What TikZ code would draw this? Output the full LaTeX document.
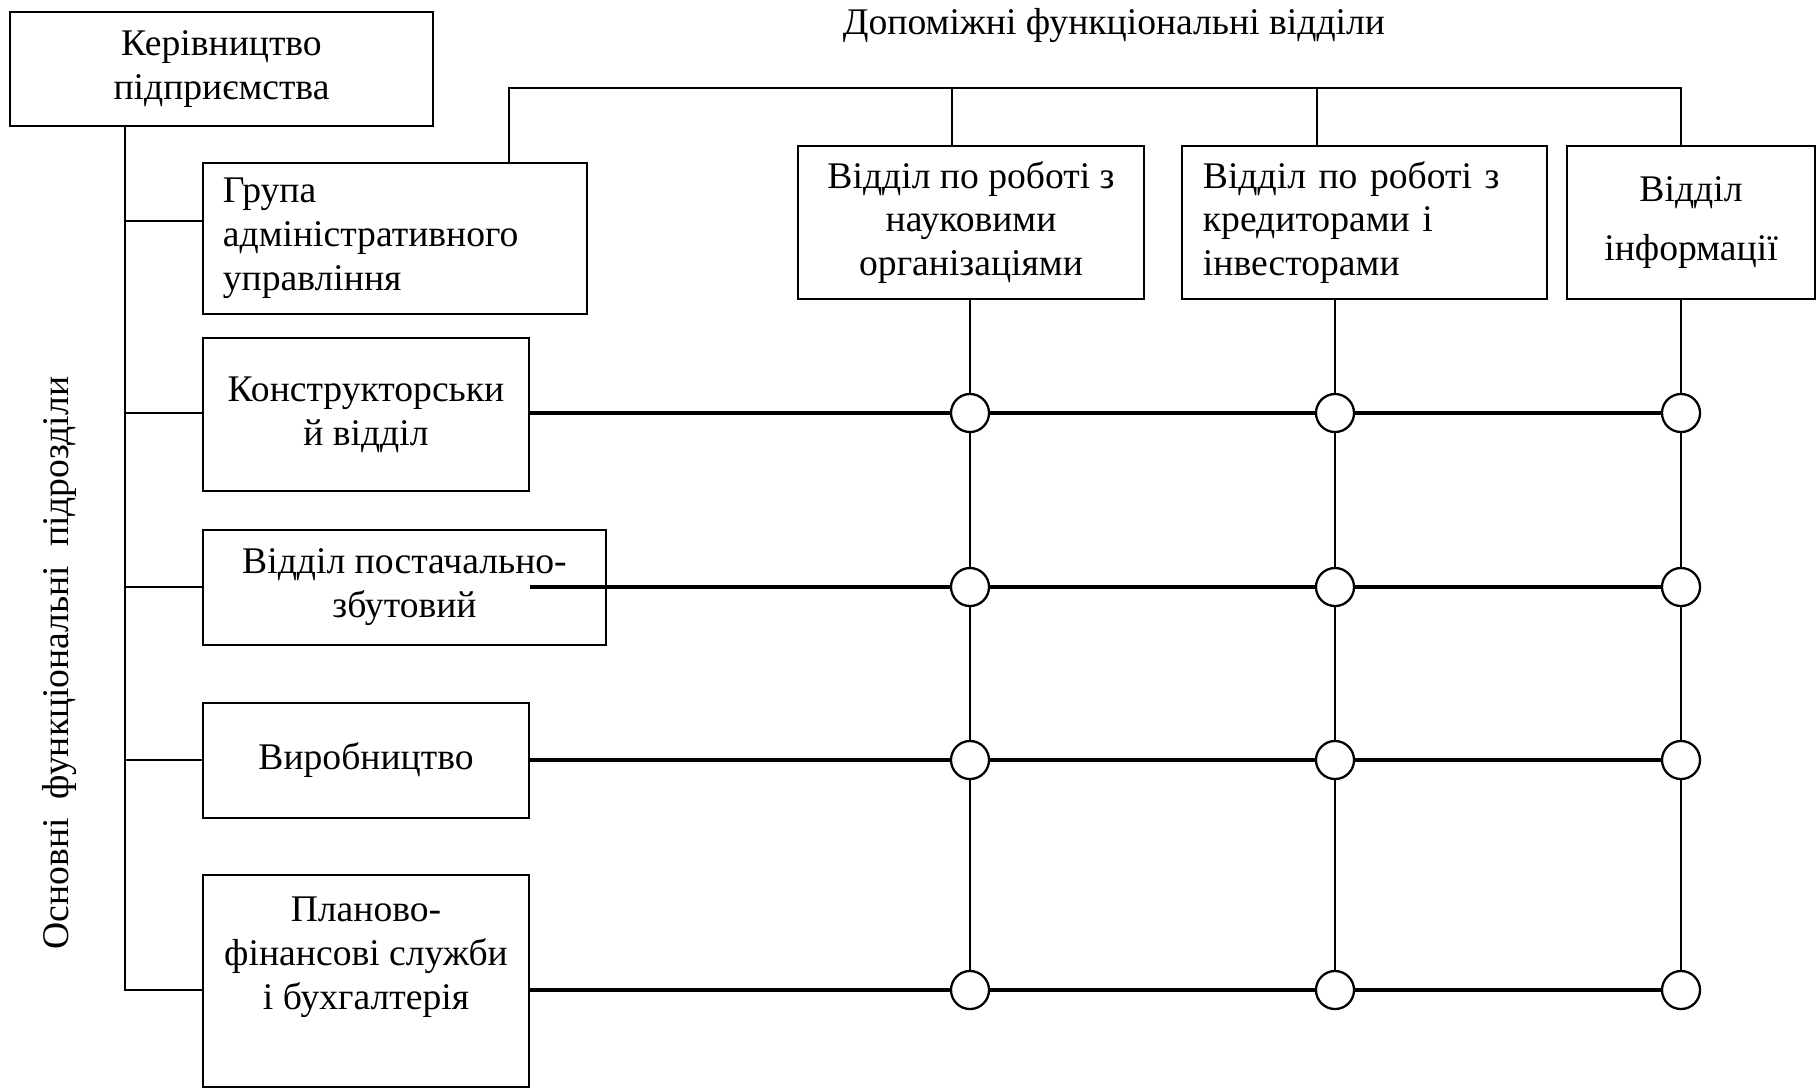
\documentclass[tikz,border=0pt]{standalone}
\usepackage{fontspec}
\setmainfont{Liberation Serif}
\usetikzlibrary{calc}

\begin{document}
\begin{tikzpicture}[x=0.01cm,y=-0.01cm,
    font=\fontsize{10.7}{12.5}\selectfont,
    box/.style={draw,line width=0.65pt,inner sep=0pt,align=center},
    link/.style={line width=0.65pt},
    row/.style={line width=0.9pt},
    knot/.style={draw,circle,fill=white,line width=0.65pt,minimum size=0.38cm,inner sep=0pt}]
	\useasboundingbox (0,0) rectangle (1816,1087);

	%% Headings
	\node (hdr) at (1114,25) {Допоміжні функціональні відділи};
	\node[rotate=90] (side) at (60,663) {Основні\ \ функціональні\ \ підрозділи};

	%% Management and the main departments (left column)
	\node[box,minimum width=4.23cm,minimum height=1.14cm] (head) at (221.5,69) {Керівництво\\підприємства};
	\node[box,minimum width=3.84cm,minimum height=1.51cm,text width=3.44cm,align=left] (grp) at (395,238.5) {Група\\адміністративного\\управління};
	\node[box,minimum width=3.26cm,minimum height=1.53cm] (konstr) at (366,414.5) {Конструкторськи\\й відділ};
	\node[box,minimum width=4.03cm,minimum height=1.15cm] (post) at (404.5,587.5) {Відділ постачально-\\збутовий};
	\node[box,minimum width=3.26cm,minimum height=1.15cm] (vyr) at (366,760.5) {Виробництво};
	\node[box,minimum width=3.26cm,minimum height=2.12cm] (plan) at (366,981) {Планово-\\фінансові служби\\і бухгалтерія\\[3.5pt]\mbox{}};

	%% Auxiliary departments (top row)
	\node[box,minimum width=3.46cm,minimum height=1.53cm] (nauk) at (971,222.5) {Відділ по роботі з\\науковими\\організаціями};
	\node[box,minimum width=3.65cm,minimum height=1.53cm,text width=3.23cm,align=left] (kred) at (1364.5,222.5) {Відділ по роботі з\\кредиторами і\\інвесторами};
	\node[box,minimum width=2.48cm,minimum height=1.53cm] (info) at (1691,222.5) {Відділ\\[4.5pt]інформації};

	%% Crossing points of the matrix
	\foreach \y [count=\r] in {413,587,760,990}
	  \foreach \x [count=\c] in {970,1335,1681}
	    \node[knot] (k\r\c) at (\x,\y) {};

	%% Trunk from management
	\coordinate (t0) at ($(head.south west)+(116,0)$);
	\draw[link] (t0) -- (t0 |- k41) -- (plan.west |- k41);
	\draw[link] (t0 |- k11) -- (konstr.west |- k11);
	\draw[link] (t0 |- k21) -- (post.west |- k21);
	\draw[link] (t0 |- k31) -- (vyr.west |- k31);
	\coordinate (g0) at ($(grp.west)+(0,-17.5)$);
	\draw[link] (t0 |- g0) -- (g0);

	%% Bus over the auxiliary departments
	\coordinate (bus) at (1681,88);
	\coordinate (g1) at ($(grp.north west)+(307,0)$);
	\coordinate (d1) at ($(nauk.north)+(-19,0)$);
	\coordinate (d2) at ($(kred.north)+(-47.5,0)$);
	\draw[link] (g1) -- (g1 |- bus) -- (bus) -- (k13 |- info.north);
	\draw[link] (d1) -- (d1 |- bus);
	\draw[link] (d2) -- (d2 |- bus);

	%% Columns
	\draw[link] (k11 |- nauk.south) -- (k11) -- (k21) -- (k31) -- (k41);
	\draw[link] (k12 |- kred.south) -- (k12) -- (k22) -- (k32) -- (k42);
	\draw[link] (k13 |- info.south) -- (k13) -- (k23) -- (k33) -- (k43);

	%% Rows
	\draw[row] (konstr.east |- k11) -- (k11) -- (k12) -- (k13);
	\draw[row] (konstr.east |- k21) -- (k21) -- (k22) -- (k23);
	\draw[row] (vyr.east |- k31) -- (k31) -- (k32) -- (k33);
	\draw[row] (plan.east |- k41) -- (k41) -- (k42) -- (k43);
\end{tikzpicture}
\end{document}
